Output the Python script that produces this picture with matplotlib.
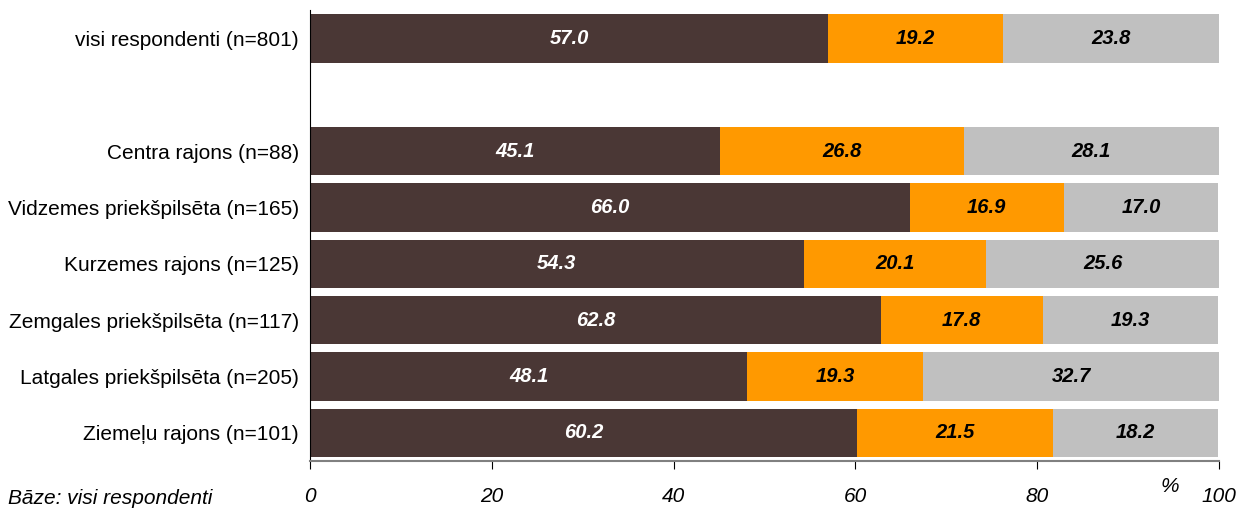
import numpy as np
import matplotlib.pyplot as plt

plt.rcParams["font.family"] = ["Liberation Sans", "DejaVu Sans"]

# ---------------------------------------------------------------------------
# Data (top to bottom); "" is the blank spacer row
# ---------------------------------------------------------------------------
categories = ["visi respondenti (n=801)", "",
              "Centra rajons (n=88)",
              "Vidzemes priekšpilsēta (n=165)",
              "Kurzemes rajons (n=125)",
              "Zemgales priekšpilsēta (n=117)",
              "Latgales priekšpilsēta (n=205)",
              "Ziemeļu rajons (n=101)"]
part_a = [57.0, np.nan, 45.1, 66.0, 54.3, 62.8, 48.1, 60.2]
part_b = [19.2, np.nan, 26.8, 16.9, 20.1, 17.8, 19.3, 21.5]
part_c = [23.8, np.nan, 28.1, 17.0, 25.6, 19.3, 32.7, 18.2]
x_ticks = [0, 20, 40, 60, 80, 100]

COLORS      = ["#4A3735", "#FF9900", "#C0C0C0"]
TEXT_COLORS = ["white", "black", "black"]

fig = plt.figure(figsize=(12.37, 5.08), dpi=100)
ax = fig.add_axes([0.2506, 0.0925, 0.7349, 0.8876])

y = np.arange(len(categories))
left = np.zeros(len(categories))
for vals, col, tcol in zip([part_a, part_b, part_c], COLORS, TEXT_COLORS):
    v = np.array(vals, dtype=float)
    ax.barh(y, np.nan_to_num(v), left=left, height=0.86, color=col, edgecolor="none")
    for yi, (l, w) in enumerate(zip(left, v)):
        if np.isnan(w):
            continue
        ax.text(l + w / 2, yi, f"{w:.1f}", ha="center", va="center",
                color=tcol, fontsize=14.5, fontweight="bold", style="italic")
    left = left + np.nan_to_num(v)

ax.set_ylim(len(categories) - 0.5, -0.5)
ax.set_xlim(0, 100)
ax.set_yticks(y)
ax.set_yticklabels(categories, fontsize=15)
ax.tick_params(axis="y", length=0, pad=8)
ax.set_xticks(x_ticks)
ax.set_xticklabels([str(t) for t in x_ticks], fontsize=15, style="italic")
ax.tick_params(axis="x", length=6, color="black", pad=13, direction="out")

for s in ["top", "right"]:
    ax.spines[s].set_visible(False)
ax.spines["left"].set_color("black")
ax.spines["bottom"].set_color("#808080")
ax.spines["bottom"].set_linewidth(1.5)

fig.text(1170 / 1237, 1 - 486 / 508, "%", fontsize=15, style="italic",
         ha="center", va="center")
fig.text(8 / 1237, 1 - 498 / 508, "Bāze: visi respondenti", fontsize=15,
         style="italic", ha="left", va="center")

fig.savefig("out.png", dpi=100)
